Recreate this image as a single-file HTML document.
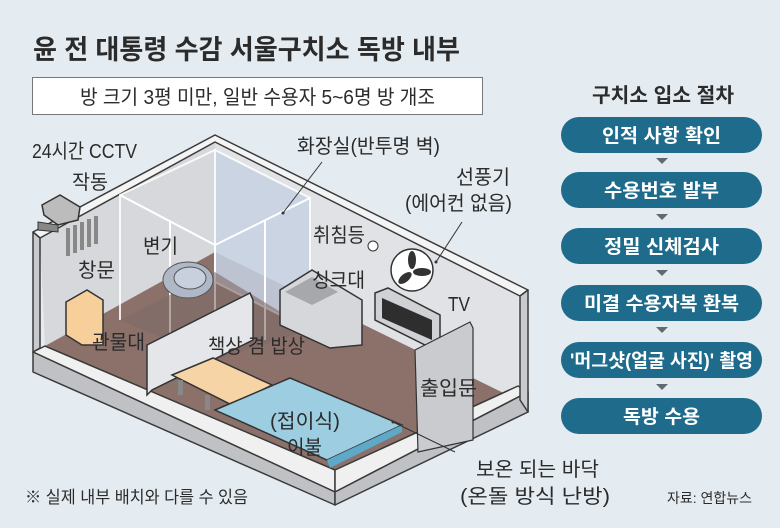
<!DOCTYPE html>
<html><head><meta charset="utf-8"><style>
html,body{margin:0;padding:0;background:#e5ecf1;}
svg{display:block}
text{font-family:"Liberation Sans","Noto Sans CJK KR",sans-serif;fill:#2b2b2b}
.b{font-weight:bold}
.w{fill:#fff;font-weight:bold}
</style></head><body>
<svg width="780" height="528" viewBox="0 0 780 528" xmlns="http://www.w3.org/2000/svg">
<rect width="780" height="528" fill="#e5ecf1"/>
<text x="33" y="59" font-size="27" class="b" textLength="427" lengthAdjust="spacingAndGlyphs">윤 전 대통령 수감 서울구치소 독방 내부</text>
<rect x="32.5" y="77.5" width="450" height="37" fill="#fff" stroke="#777"/>
<text x="80" y="104" font-size="20" textLength="355" lengthAdjust="spacingAndGlyphs">방 크기 3평 미만, 일반 수용자 5~6명 방 개조</text>

<!-- room -->
<g stroke="#3a3a3a" stroke-width="1.5" stroke-linejoin="round">
<!-- floor -->
<polygon points="45,345 215,250 518,400 335,478" fill="#8b716a" stroke="none"/>
<!-- back left wall -->
<polygon points="40,238 215,142 215,252 45,346" fill="#d6d8dc" stroke="none"/>
<!-- back right wall -->
<polygon points="215,142 518,296 518,400 215,252" fill="#e0e2e5" stroke="none"/>
<!-- wall top outline -->
<polygon points="33,232 215,135 528,290 520,296 215,142 40,238" fill="#f4f4f4"/>
<!-- left outer wall -->
<polygon points="33,232 40,238 40,348 33,352" fill="#c8cacd"/>
<!-- front-left low wall -->
<polygon points="33,352 45,346 335,470 335,492" fill="#f0f0f0"/>
<polygon points="33,352 33,372 335,505 335,492" fill="#bfc1c4"/>
<!-- front-right low wall -->
<polygon points="335,470 518,386 528,392 335,492" fill="#f0f0f0"/>
<polygon points="335,492 528,392 528,412 335,505" fill="#bfc1c4"/>
<!-- right outer wall -->
<polygon points="520,296 528,290 528,412 520,400" fill="#c8cacd"/>
</g>
<!-- bathroom glass -->
<g stroke="#fff" stroke-width="2">
<polygon points="120,195 215,150 310,198 310,330 215,282 215,150 120,195 120,320" fill="#c7d2e3" opacity="0.85"/>
<line x1="120" y1="195" x2="215" y2="245"/>
<line x1="215" y1="245" x2="310" y2="198"/>
<line x1="215" y1="245" x2="215" y2="360"/>
<line x1="170" y1="220" x2="170" y2="335"/>
<line x1="265" y1="220" x2="265" y2="340"/>
</g>
<polygon points="120,320 215,272 310,330 215,360" fill="#7e6a68" opacity="0.6"/>
<!-- toilet -->
<ellipse cx="188" cy="280" rx="25" ry="18" fill="#b0b8c8" stroke="#555"/>
<ellipse cx="190" cy="278" rx="16" ry="11" fill="#c7d0dc" stroke="#555"/>
<!-- camera -->
<polygon points="42,205 60,195 80,207 78,220 58,225 44,215" fill="#bcbcbc" stroke="#333" stroke-width="1.5"/>
<polygon points="38,222 58,225 58,232 38,230" fill="#888" stroke="#333"/>
<!-- window bars -->
<g fill="#888"><rect x="66" y="228" width="4" height="28"/><rect x="73" y="225" width="4" height="28"/><rect x="80" y="222" width="4" height="28"/><rect x="87" y="219" width="4" height="28"/><rect x="94" y="216" width="4" height="28"/></g>
<!-- shelf -->
<polygon points="66,302 87,290 103,300 103,345 82,345 66,335" fill="#f6cf9a" stroke="#333" stroke-width="1.5"/>
<!-- partition -->
<polygon points="147,345 250,293 253,300 253,340 152,390 147,395" fill="#e4e6e9" stroke="#333" stroke-width="1.5"/>
<!-- sink -->
<polygon points="280,290 312,270 362,300 362,345 330,348 280,325" fill="#d5d7da" stroke="#333" stroke-width="1.5"/>
<polygon points="285,292 312,277 338,292 312,305" fill="#a6a8ab"/>
<!-- bulb -->
<circle cx="373" cy="246" r="5" fill="#fff" stroke="#333"/>
<!-- fan -->
<circle cx="412" cy="270" r="21" fill="#fff" stroke="#333" stroke-width="1.5"/>
<g fill="#333"><ellipse cx="412" cy="260" rx="4" ry="9"/><ellipse cx="422" cy="272" rx="9" ry="4"/><ellipse cx="405" cy="278" rx="8" ry="4" transform="rotate(-40 405 278)"/></g>
<!-- TV -->
<polygon points="375,293 388,288 440,315 440,345 425,345 375,320" fill="#cfd1d4" stroke="#333" stroke-width="1.5"/>
<polygon points="382,298 432,320 432,340 382,318" fill="#2e2e2e"/>
<!-- table -->
<polygon points="172,375 213,358 272,385 232,405" fill="#f7d4a5" stroke="#333" stroke-width="1.5"/>
<g fill="#888"><rect x="178" y="380" width="5" height="15"/><rect x="205" y="395" width="5" height="15"/><rect x="260" y="390" width="5" height="13"/></g>
<!-- blanket -->
<polygon points="215,410 290,378 402,425 327,460" fill="#9dcde0" stroke="#333" stroke-width="1.5"/>
<polygon points="327,460 402,425 402,432 330,468" fill="#5ea9c7"/>
<!-- door -->
<polygon points="415,350 470,322 473,328 473,440 418,452" fill="#c9cbce" stroke="#333" stroke-width="1.2"/>
<!-- leader lines -->
<g stroke="#333" stroke-width="1"><line x1="322" y1="162" x2="283" y2="213"/><line x1="462" y1="222" x2="436" y2="262"/><line x1="393" y1="422" x2="455" y2="452"/></g>
<circle cx="283" cy="213" r="1.5" fill="#333"/><circle cx="436" cy="262" r="1.5" fill="#333"/><circle cx="393" cy="422" r="1.5" fill="#333"/>

<!-- labels -->
<g font-size="20">
<text x="32" y="158" textLength="105" lengthAdjust="spacingAndGlyphs">24시간 CCTV</text>
<text x="72" y="189" textLength="36" lengthAdjust="spacingAndGlyphs">작동</text>
<text x="297" y="153" textLength="143" lengthAdjust="spacingAndGlyphs">화장실(반투명 벽)</text>
<text x="456" y="184" textLength="54" lengthAdjust="spacingAndGlyphs">선풍기</text>
<text x="405" y="210" textLength="107" lengthAdjust="spacingAndGlyphs">(에어컨 없음)</text>
<text x="313" y="242" textLength="52" lengthAdjust="spacingAndGlyphs">취침등</text>
<text x="143" y="253" textLength="35" lengthAdjust="spacingAndGlyphs">변기</text>
<text x="78" y="277" textLength="37" lengthAdjust="spacingAndGlyphs">창문</text>
<text x="312" y="287" textLength="53" lengthAdjust="spacingAndGlyphs">싱크대</text>
<text x="448" y="311" textLength="22" lengthAdjust="spacingAndGlyphs">TV</text>
<text x="92" y="349" textLength="53" lengthAdjust="spacingAndGlyphs">관물대</text>
<text x="208" y="353" textLength="97" lengthAdjust="spacingAndGlyphs">책상 겸 밥상</text>
<text x="420" y="395" textLength="57" lengthAdjust="spacingAndGlyphs">출입문</text>
<text x="270" y="428" textLength="70" lengthAdjust="spacingAndGlyphs">(접이식)</text>
<text x="287" y="454" textLength="35" lengthAdjust="spacingAndGlyphs">이불</text>
<text x="476" y="476" textLength="123" lengthAdjust="spacingAndGlyphs">보온 되는 바닥</text>
<text x="460" y="503" textLength="150" lengthAdjust="spacingAndGlyphs">(온돌 방식 난방)</text>
</g>
<text x="25" y="503" font-size="17" textLength="223" lengthAdjust="spacingAndGlyphs">※ 실제 내부 배치와 다를 수 있음</text>
<text x="667" y="503" font-size="14" textLength="85" lengthAdjust="spacingAndGlyphs">자료: 연합뉴스</text>

<!-- right procedure -->
<text x="592" y="102" font-size="20" class="b" textLength="142" lengthAdjust="spacingAndGlyphs">구치소 입소 절차</text>
<g fill="#1e6b8c">
<rect x="561" y="117" width="201" height="36" rx="18"/>
<rect x="561" y="172" width="201" height="36" rx="18"/>
<rect x="561" y="228" width="201" height="36" rx="18"/>
<rect x="561" y="285" width="201" height="36" rx="18"/>
<rect x="561" y="342" width="201" height="36" rx="18"/>
<rect x="561" y="398" width="201" height="36" rx="18"/>
</g>
<g fill="#5f6b74">
<polygon points="656,158 668,158 662,164"/>
<polygon points="656,214 668,214 662,220"/>
<polygon points="656,270 668,270 662,276"/>
<polygon points="656,327 668,327 662,333"/>
<polygon points="656,384 668,384 662,390"/>
</g>
<g font-size="19">
<text x="602" y="142" class="w" textLength="119" lengthAdjust="spacingAndGlyphs">인적 사항 확인</text>
<text x="604" y="197" class="w" textLength="115" lengthAdjust="spacingAndGlyphs">수용번호 발부</text>
<text x="604" y="253" class="w" textLength="115" lengthAdjust="spacingAndGlyphs">정밀 신체검사</text>
<text x="584" y="310" class="w" textLength="155" lengthAdjust="spacingAndGlyphs">미결 수용자복 환복</text>
<text x="570" y="367" class="w" textLength="183" lengthAdjust="spacingAndGlyphs">'머그샷(얼굴 사진)' 촬영</text>
<text x="623" y="423" class="w" textLength="77" lengthAdjust="spacingAndGlyphs">독방 수용</text>
</g>
</svg>
</body></html>
